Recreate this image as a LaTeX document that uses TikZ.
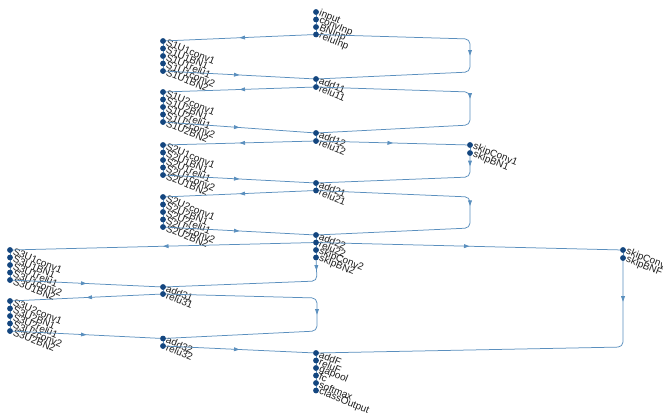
\documentclass[tikz,border=0pt]{standalone}
\usepackage{fontspec}
\setmainfont{Liberation Sans}
\usetikzlibrary{arrows.meta,decorations.markings}
\definecolor{edgecol}{HTML}{5A8FBE}
\definecolor{dotcol}{HTML}{14467F}
\definecolor{txtcol}{HTML}{1E1E1E}
\tikzset{
  dot/.style={circle,fill=dotcol,inner sep=0pt,minimum size=5.5pt},
  lab/.style={anchor=west,rotate=-22,inner sep=0pt,font=\fontsize{10}{10}\selectfont,text=txtcol},
  edge/.style={draw=edgecol,line width=0.75pt,rounded corners=5pt},
  arr/.style={postaction={decorate,decoration={markings,mark=at position #1 with {\arrow{Triangle[length=5.5pt,width=3.8pt]}}}}},
  arr/.default=0.5
}
\newcommand\lnode[4]{\node[dot] (#1) at (#2,#3) {};\node[lab] (#1-t) at ([xshift=3.5pt,yshift=-1pt]#1.center) {#4};}
\begin{document}
\begin{tikzpicture}[x=1pt,y=-1pt]
\fill[white] (0,0) rectangle (663,415);
\useasboundingbox (0,0) rectangle (663,415);
\def\M{316}\def\L{163}\def\F{10}
% main column nodes
\lnode{input}{\M}{12}{input}
\lnode{convInp}{\M}{19.5}{convInp}
\lnode{BNInp}{\M}{27}{BNInp}
\lnode{reluInp}{\M}{34.5}{reluInp}
% S1U1
\lnode{S1U1conv1}{\L}{41}{S1U1conv1}
\lnode{S1U1BN1}{\L}{48.5}{S1U1BN1}
\lnode{S1U1relu1}{\L}{56}{S1U1relu1}
\lnode{S1U1conv2}{\L}{63.5}{S1U1conv2}
\lnode{S1U1BN2}{\L}{71}{S1U1BN2}
\lnode{add11}{\M}{79}{add11}
\lnode{relu11}{\M}{87}{relu11}
% S1U2
\lnode{S1U2conv1}{\L}{92}{S1U2conv1}
\lnode{S1U2BN1}{\L}{99.5}{S1U2BN1}
\lnode{S1U2relu1}{\L}{107}{S1U2relu1}
\lnode{S1U2conv2}{\L}{114.5}{S1U2conv2}
\lnode{S1U2BN2}{\L}{122}{S1U2BN2}
\lnode{add12}{\M}{133}{add12}
\lnode{relu12}{\M}{141}{relu12}
\lnode{skipConv1}{470}{145}{skipConv1}
\lnode{skipBN1}{470}{153}{skipBN1}
% S2U1
\lnode{S2U1conv1}{\L}{145}{S2U1conv1}
\lnode{S2U1BN1}{\L}{152.5}{S2U1BN1}
\lnode{S2U1relu1}{\L}{160}{S2U1relu1}
\lnode{S2U1conv2}{\L}{167.5}{S2U1conv2}
\lnode{S2U1BN2}{\L}{175}{S2U1BN2}
\lnode{add21}{\M}{183}{add21}
\lnode{relu21}{\M}{190.5}{relu21}
% S2U2
\lnode{S2U2conv1}{\L}{197}{S2U2conv1}
\lnode{S2U2BN1}{\L}{204.5}{S2U2BN1}
\lnode{S2U2relu1}{\L}{212}{S2U2relu1}
\lnode{S2U2conv2}{\L}{219.5}{S2U2conv2}
\lnode{S2U2BN2}{\L}{227}{S2U2BN2}
\lnode{add22}{\M}{235}{add22}
\lnode{relu22}{\M}{242.5}{relu22}
\lnode{skipConv2}{\M}{250}{skipConv2}
\lnode{skipBN2}{\M}{257.5}{skipBN2}
\lnode{skipConvF}{623}{250}{skipConvF}
\lnode{skipBNF}{623}{258}{skipBNF}
% S3U1
\lnode{S3U1conv1}{\F}{250}{S3U1conv1}
\lnode{S3U1BN1}{\F}{257.5}{S3U1BN1}
\lnode{S3U1relu1}{\F}{265}{S3U1relu1}
\lnode{S3U1conv2}{\F}{272.5}{S3U1conv2}
\lnode{S3U1BN2}{\F}{280}{S3U1BN2}
\lnode{add31}{\L}{287}{add31}
\lnode{relu31}{\L}{294}{relu31}
% S3U2
\lnode{S3U2conv1}{\F}{301}{S3U2conv1}
\lnode{S3U2BN1}{\F}{308.5}{S3U2BN1}
\lnode{S3U2relu1}{\F}{316}{S3U2relu1}
\lnode{S3U2conv2}{\F}{323.5}{S3U2conv2}
\lnode{S3U2BN2}{\F}{331}{S3U2BN2}
\lnode{add32}{\L}{338.5}{add32}
\lnode{relu32}{\L}{346}{relu32}
% final
\lnode{addF}{\M}{353}{addF}
\lnode{reluF}{\M}{360.5}{reluF}
\lnode{gapool}{\M}{368}{gapool}
\lnode{fc}{\M}{375.5}{fc}
\lnode{softmax}{\M}{383}{softmax}
\lnode{classOutput}{\M}{390.5}{classOutput}
% corner coordinates
\coordinate (c1a) at (470,39); \coordinate (c1b) at (470,72);
\coordinate (c2a) at (470,92); \coordinate (c2b) at (470,125);
\coordinate (c3) at (470,177);
\coordinate (c4a) at (470,197); \coordinate (c4b) at (470,228);
\coordinate (c5) at (317,281);
\coordinate (c6a) at (317,298); \coordinate (c6b) at (317,331);
\coordinate (c7) at (623,347);
% ---- edges ----
\foreach \a/\b in {input/convInp,convInp/BNInp,BNInp/reluInp,
  S1U1conv1/S1U1BN1,S1U1BN1/S1U1relu1,S1U1relu1/S1U1conv2,S1U1conv2/S1U1BN2,
  add11/relu11,
  S1U2conv1/S1U2BN1,S1U2BN1/S1U2relu1,S1U2relu1/S1U2conv2,S1U2conv2/S1U2BN2,
  add12/relu12,skipConv1/skipBN1,
  S2U1conv1/S2U1BN1,S2U1BN1/S2U1relu1,S2U1relu1/S2U1conv2,S2U1conv2/S2U1BN2,
  add21/relu21,
  S2U2conv1/S2U2BN1,S2U2BN1/S2U2relu1,S2U2relu1/S2U2conv2,S2U2conv2/S2U2BN2,
  add22/relu22,relu22/skipConv2,skipConv2/skipBN2,skipConvF/skipBNF,
  S3U1conv1/S3U1BN1,S3U1BN1/S3U1relu1,S3U1relu1/S3U1conv2,S3U1conv2/S3U1BN2,
  add31/relu31,
  S3U2conv1/S3U2BN1,S3U2BN1/S3U2relu1,S3U2relu1/S3U2conv2,S3U2conv2/S3U2BN2,
  add32/relu32,
  addF/reluF,reluF/gapool,gapool/fc,fc/softmax,softmax/classOutput}
  {\draw[edge] (\a) -- (\b);}
\foreach \a/\b in {reluInp/S1U1conv1,S1U1BN2/add11,relu11/S1U2conv1,S1U2BN2/add12,
  relu12/S2U1conv1,relu12/skipConv1,S2U1BN2/add21,relu21/S2U2conv1,S2U2BN2/add22,
  relu22/S3U1conv1,relu22/skipConvF,S3U1BN2/add31,relu31/S3U2conv1,S3U2BN2/add32,
  relu32/addF}
  {\draw[edge,arr] (\a) -- (\b);}
\draw[edge,arr] (reluInp) -- (c1a) -- (c1b) -- (add11);
\draw[edge,arr=0.47] (relu11) -- (c2a) -- (c2b) -- (add12);
\draw[edge,arr=0.06] (skipBN1) -- (c3) -- (add21);
\draw[edge,arr=0.48] (relu21) -- (c4a) -- (c4b) -- (add22);
\draw[edge,arr=0.06] (skipBN2) -- (c5) -- (add31);
\draw[edge,arr] (relu31) -- (c6a) -- (c6b) -- (add32);
\draw[edge,arr=0.105] (skipBNF) -- (c7) -- (addF);
% redraw dots on top
\foreach \n in {input,convInp,BNInp,reluInp,S1U1conv1,S1U1BN1,S1U1relu1,S1U1conv2,S1U1BN2,add11,relu11,
  S1U2conv1,S1U2BN1,S1U2relu1,S1U2conv2,S1U2BN2,add12,relu12,skipConv1,skipBN1,
  S2U1conv1,S2U1BN1,S2U1relu1,S2U1conv2,S2U1BN2,add21,relu21,
  S2U2conv1,S2U2BN1,S2U2relu1,S2U2conv2,S2U2BN2,add22,relu22,skipConv2,skipBN2,skipConvF,skipBNF,
  S3U1conv1,S3U1BN1,S3U1relu1,S3U1conv2,S3U1BN2,add31,relu31,
  S3U2conv1,S3U2BN1,S3U2relu1,S3U2conv2,S3U2BN2,add32,relu32,
  addF,reluF,gapool,fc,softmax,classOutput}
  {\fill[dotcol] (\n.center) circle (2.75pt);}
\end{tikzpicture}
\end{document}
